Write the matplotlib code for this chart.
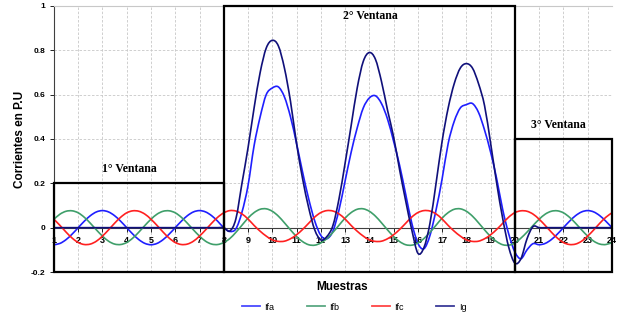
import numpy as np
import matplotlib.pyplot as plt
from matplotlib.patches import Rectangle, PathPatch
from matplotlib.path import Path
from matplotlib.lines import Line2D

# muestras cada 1/4 (1 ... 24)
muestras = np.linspace(1, 24, 93)

ifa = [-0.077, -0.071, -0.054, -0.029,
       0.000, 0.029, 0.054, 0.071,
       0.077, 0.071, 0.054, 0.029,
       0.000, -0.029, -0.054, -0.071,
       -0.077, -0.071, -0.054, -0.029,
       0.000, 0.029, 0.054, 0.071,
       0.077, 0.071, 0.054, 0.029,
       0.000, -0.017, -0.005, 0.070,
       0.190, 0.370, 0.500, 0.600,
       0.630, 0.635, 0.590, 0.500,
       0.380, 0.250, 0.130, 0.030,
       -0.035, -0.050, -0.015, 0.080,
       0.210, 0.340, 0.450, 0.540,
       0.585, 0.595, 0.560, 0.490,
       0.390, 0.280, 0.150, 0.020,
       -0.070, -0.095, -0.035, 0.080,
       0.220, 0.380, 0.480, 0.540,
       0.555, 0.560, 0.520, 0.440,
       0.340, 0.220, 0.080, -0.030,
       -0.110, -0.140, -0.100, -0.072,
       -0.077, -0.071, -0.054, -0.029,
       0.000, 0.029, 0.054, 0.071,
       0.077, 0.071, 0.054, 0.029,
       0.000]

ifb = [0.038, 0.061, 0.074, 0.076,
       0.067, 0.047, 0.020, -0.010,
       -0.038, -0.061, -0.074, -0.076,
       -0.067, -0.047, -0.020, 0.010,
       0.038, 0.061, 0.074, 0.076,
       0.067, 0.047, 0.020, -0.010,
       -0.038, -0.061, -0.074, -0.076,
       -0.067, -0.049, -0.021, 0.011,
       0.043, 0.068, 0.083, 0.085,
       0.074, 0.052, 0.022, -0.010,
       -0.040, -0.063, -0.077, -0.079,
       -0.069, -0.049, -0.021, 0.011,
       0.043, 0.068, 0.083, 0.085,
       0.074, 0.052, 0.022, -0.010,
       -0.040, -0.063, -0.077, -0.079,
       -0.069, -0.049, -0.021, 0.011,
       0.043, 0.068, 0.083, 0.085,
       0.074, 0.052, 0.022, -0.010,
       -0.040, -0.063, -0.077, -0.079,
       -0.069, -0.047, -0.020, 0.010,
       0.038, 0.061, 0.074, 0.076,
       0.067, 0.047, 0.020, -0.010,
       -0.038, -0.061, -0.074, -0.076,
       -0.067]

ifc = [0.038, 0.010, -0.020, -0.047,
       -0.067, -0.076, -0.074, -0.061,
       -0.038, -0.010, 0.020, 0.047,
       0.067, 0.076, 0.074, 0.061,
       0.038, 0.010, -0.020, -0.047,
       -0.067, -0.076, -0.074, -0.061,
       -0.038, -0.010, 0.020, 0.047,
       0.067, 0.077, 0.075, 0.062,
       0.039, 0.010, -0.016, -0.038,
       -0.055, -0.062, -0.061, -0.050,
       -0.032, -0.008, 0.020, 0.048,
       0.068, 0.077, 0.075, 0.062,
       0.039, 0.010, -0.016, -0.038,
       -0.055, -0.062, -0.061, -0.050,
       -0.032, -0.008, 0.020, 0.048,
       0.068, 0.077, 0.075, 0.062,
       0.039, 0.010, -0.016, -0.038,
       -0.055, -0.062, -0.061, -0.050,
       -0.032, -0.008, 0.020, 0.048,
       0.068, 0.076, 0.074, 0.061,
       0.038, 0.010, -0.020, -0.047,
       -0.067, -0.076, -0.074, -0.061,
       -0.038, -0.010, 0.020, 0.047,
       0.067]

ig = [0.0] * 28 + [
      0.000, -0.015, 0.040, 0.200,
      0.360, 0.540, 0.700, 0.810,
      0.845, 0.820, 0.720, 0.570,
      0.380, 0.220, 0.090, -0.010,
      -0.055, -0.040, 0.010, 0.130,
      0.290, 0.460, 0.630, 0.750,
      0.790, 0.760, 0.660, 0.530,
      0.410, 0.260, 0.120, -0.010,
      -0.115, -0.090, 0.020, 0.200,
      0.390, 0.540, 0.650, 0.720,
      0.740, 0.720, 0.650, 0.550,
      0.380, 0.200, 0.040, -0.090,
      -0.160, -0.140, -0.050, 0.005] + [0.0] * 13

series = ['Ifa', 'Ifb', 'Ifc', 'Ig']
colores = ['#1f1fff', '#3f9f6a', '#ff2020', '#10107a']
colores_leyenda = ['#4a4aff', '#5aa882', '#ff4545', '#3a3a98']

# ventanas: (x inicio, x fin, y tope, texto, x texto, y texto)
ventanas = [(1, 8, 0.2, '1° Ventana', 4.1, 0.265),
            (8, 20, 1.0, '2° Ventana', 14.05, 0.955),
            (20, 24, 0.4, '3° Ventana', 21.8, 0.465)]

xticks = list(range(1, 25))
yticks = [-0.2, 0, 0.2, 0.4, 0.6, 0.8, 1]
ylabels = ['-0.2', '0', '0.2', '0.4', '0.6', '0.8', '1']


def linea_suave(x, y):
    # linea suavizada tipo Excel (bezier por los puntos)
    p = np.column_stack([x, y])
    verts = [p[0]]
    codes = [Path.MOVETO]
    n = len(p)
    for i in range(n - 1):
        a = p[max(i - 1, 0)]
        b = p[i]
        c = p[i + 1]
        d = p[min(i + 2, n - 1)]
        verts += [b + (c - a) / 6, c - (d - b) / 6, c]
        codes += [Path.CURVE4] * 3
    return Path(verts, codes)


plt.rcParams['font.family'] = ['Liberation Sans', 'DejaVu Sans']

fig = plt.figure(figsize=(6.2, 3.15), dpi=100)
ax = fig.add_axes([0.087, 0.1365, 0.9, 0.8445])

ax.spines['bottom'].set_position(('data', 0))

handles = []
for nombre, datos, c, cl in zip(series, [ifa, ifb, ifc, ig], colores, colores_leyenda):
    ax.add_patch(PathPatch(linea_suave(muestras, datos), fill=False, ec=c,
                           lw=1.2, zorder=3))
    handles.append(Line2D([], [], color=cl, lw=1.3, label=nombre))

for x0, x1, top, txt, tx, ty in ventanas:
    ax.add_patch(Rectangle((x0, -0.2), x1 - x0, top + 0.2, fill=False,
                           ec='black', lw=1.6, zorder=6, clip_on=False))
    ax.text(tx, ty, txt, ha='center', va='center', fontsize=8.5,
            fontweight='bold', family='Liberation Serif', zorder=7)

ax.set_xlim(1, 24)
ax.set_ylim(-0.2, 1)
ax.set_xticks(xticks)
ax.set_xticklabels([str(t) for t in xticks], fontsize=6.5, fontweight='bold')
ax.set_yticks(yticks)
ax.set_yticklabels(ylabels, fontsize=6, fontweight='bold')

ax.spines['bottom'].set_color('#404040')
ax.spines['bottom'].set_linewidth(0.8)
ax.spines['left'].set_color('#404040')
ax.spines['left'].set_linewidth(0.8)
ax.spines['right'].set_visible(False)
ax.spines['top'].set_color('#c8c8c8')
ax.spines['top'].set_linewidth(0.8)
ax.tick_params(axis='x', length=3, width=0.6, pad=3, direction='out')
ax.tick_params(axis='y', length=3, width=0.6, pad=3)

ax.grid(True, ls=(0, (3, 2)), color='#c8c8c8', lw=0.6)
ax.set_axisbelow(True)

fig.text(20 / 620, 1 - 139.5 / 315, 'Corrientes en P.U', rotation=90,
         ha='center', va='center', fontsize=8.5, fontweight='bold')
fig.text(342 / 620, 1 - 287 / 315, 'Muestras', ha='center', va='center',
         fontsize=8.5, fontweight='bold')

fig.legend(handles=handles, loc='center', bbox_to_anchor=(354 / 620, 1 - 307 / 315),
           ncol=4, frameon=False, fontsize=6.5, handlelength=2.0,
           handletextpad=0.5, columnspacing=3.6)

fig.savefig('out.png', dpi=100)
